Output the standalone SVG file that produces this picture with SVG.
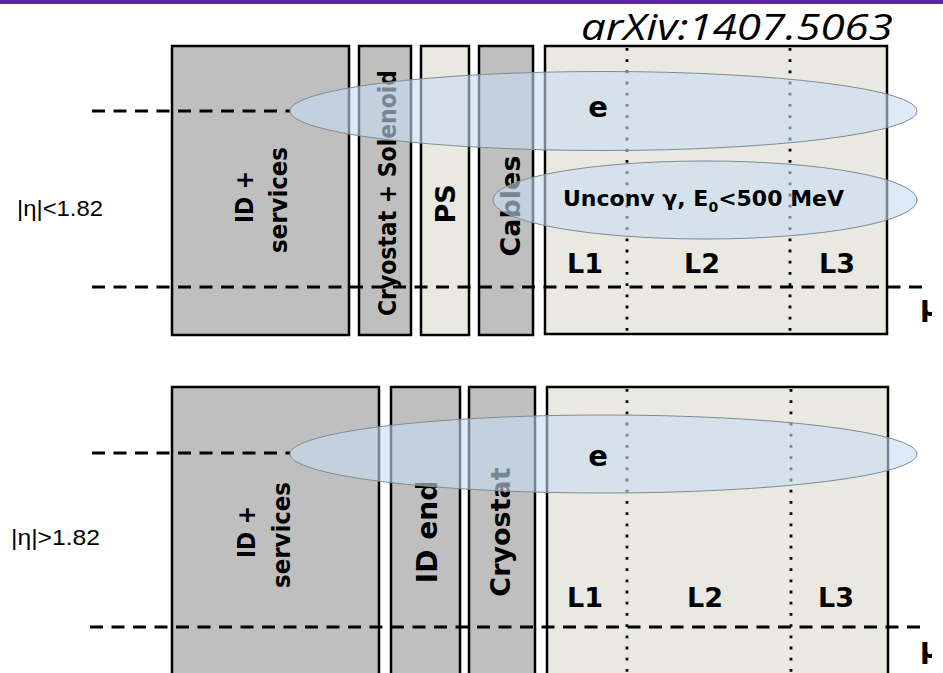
<svg xmlns="http://www.w3.org/2000/svg" width="943" height="673" viewBox="0 0 943 673">
  <style>
    .dark { fill: #bfbfbf; stroke: #000; stroke-width: 2.5; }
    .light { fill: #eae9e1; stroke: #000; stroke-width: 2.5; }
    .lbl { font-family: "DejaVu Sans", "Liberation Sans", sans-serif; font-weight: bold; fill: #000; }
    .eta { font-family: "Liberation Sans", Arial, sans-serif; font-size: 22px; fill: #000; }
    .dash { stroke: #000; stroke-width: 3; stroke-dasharray: 13 8.5; fill: none; }
    .dot { stroke: #000; stroke-width: 2.8; stroke-dasharray: 2.8 8.4; fill: none; }
    .shower { fill: rgb(199,221,243); fill-opacity: 0.6; stroke: #808a90; stroke-width: 1; }
  </style>
  <defs>
    <!-- the figure is cut off on its right side -->
    <clipPath id="figclip"><rect x="0" y="0" width="932" height="673"/></clipPath>
  </defs>

  <rect width="943" height="673" fill="#fff"/>
  <!-- header bar -->
  <rect x="0" y="0" width="943" height="4" fill="#5b22a7"/>
  <text x="581" y="40" font-family="'Open Sans', 'Liberation Sans', sans-serif" font-style="italic" font-size="36" textLength="312" lengthAdjust="spacingAndGlyphs" fill="#000">arXiv:1407.5063</text>

  <g clip-path="url(#figclip)">
  <!-- ===== central region |eta| < 1.82 ===== -->
  <g id="barrel">
    <g id="b-id">
      <rect class="dark" x="172" y="46" width="177" height="289"/>
      <text class="lbl" font-size="25" text-anchor="middle" transform="translate(253,197) rotate(-90)" textLength="52" lengthAdjust="spacingAndGlyphs">ID +</text>
      <text class="lbl" font-size="25" text-anchor="middle" transform="translate(287,200) rotate(-90)" textLength="106" lengthAdjust="spacingAndGlyphs">services</text>
    </g>
    <g id="b-cryo">
      <rect class="dark" x="359" y="46" width="52" height="289"/>
      <text class="lbl" font-size="24" text-anchor="middle" transform="translate(396,193) rotate(-90)" textLength="246" lengthAdjust="spacingAndGlyphs">Cryostat + Solenoid</text>
    </g>
    <g id="b-ps">
      <rect class="light" x="421" y="46" width="48" height="289"/>
      <text class="lbl" font-size="27" text-anchor="middle" transform="translate(455,204) rotate(-90)">PS</text>
    </g>
    <g id="b-cables">
      <rect class="dark" x="479" y="46" width="54" height="289"/>
      <text class="lbl" font-size="27" text-anchor="middle" transform="translate(520,206) rotate(-90)">Cables</text>
    </g>
    <g id="b-calo">
      <rect class="light" x="545" y="46" width="342" height="288"/>
      <line class="dot" x1="627" y1="48" x2="627" y2="333"/>
      <line class="dot" x1="790" y1="48" x2="790" y2="333"/>
      <text class="lbl" font-size="27" x="567" y="273">L1</text>
      <text class="lbl" font-size="27" x="684" y="273">L2</text>
      <text class="lbl" font-size="27" x="819" y="273">L3</text>
    </g>
  </g>

  <!-- ===== forward region |eta| > 1.82 ===== -->
  <g id="endcap">
    <g id="e-id">
      <rect class="dark" x="172" y="387" width="207" height="300"/>
      <text class="lbl" font-size="25" text-anchor="middle" transform="translate(255,532) rotate(-90)" textLength="52" lengthAdjust="spacingAndGlyphs">ID +</text>
      <text class="lbl" font-size="25" text-anchor="middle" transform="translate(290,535) rotate(-90)" textLength="106" lengthAdjust="spacingAndGlyphs">services</text>
    </g>
    <g id="e-idend">
      <rect class="dark" x="391" y="387" width="69" height="300"/>
      <text class="lbl" font-size="28" text-anchor="middle" transform="translate(437,532) rotate(-90)">ID end</text>
    </g>
    <g id="e-cryo">
      <rect class="dark" x="469" y="387" width="66" height="300"/>
      <text class="lbl" font-size="27" text-anchor="middle" transform="translate(510,532) rotate(-90)">Cryostat</text>
    </g>
    <g id="e-calo">
      <rect class="light" x="547" y="387" width="341" height="300"/>
      <line class="dot" x1="627" y1="389" x2="627" y2="673"/>
      <line class="dot" x1="791" y1="389" x2="791" y2="673"/>
      <text class="lbl" font-size="27" x="567" y="607">L1</text>
      <text class="lbl" font-size="27" x="687" y="607">L2</text>
      <text class="lbl" font-size="27" x="818" y="607">L3</text>
    </g>
  </g>

  <!-- beam lines -->
  <g id="guides">
    <line class="dash" x1="92" y1="111" x2="290" y2="111"/>
    <line class="dash" x1="92" y1="287" x2="927" y2="287"/>
    <line class="dash" x1="92" y1="453" x2="290" y2="453"/>
    <line class="dash" x1="90" y1="627" x2="925" y2="627"/>
  </g>
  <text class="lbl" font-size="28" x="920" y="316">μ</text>
  <text class="lbl" font-size="28" x="920" y="658">μ</text>

  <!-- showers -->
  <g id="shower-e-barrel">
    <ellipse class="shower" cx="603.5" cy="111" rx="313.5" ry="39.5"/>
    <text class="lbl" font-size="29" text-anchor="middle" x="598" y="117">e</text>
  </g>
  <g id="shower-gamma">
    <ellipse class="shower" cx="705" cy="200" rx="212" ry="39"/>
    <text class="lbl" font-size="22" x="563" y="206">Unconv γ, E<tspan font-size="14" dy="6">0</tspan><tspan dy="-6">&lt;500 MeV</tspan></text>
  </g>
  <g id="shower-e-endcap">
    <ellipse class="shower" cx="603.5" cy="454" rx="313.5" ry="39"/>
    <text class="lbl" font-size="29" text-anchor="middle" x="598" y="466">e</text>
  </g>
  </g>

  <!-- eta ranges -->
  <text class="eta" x="17" y="216" textLength="86" lengthAdjust="spacingAndGlyphs">|η|&lt;1.82</text>
  <text class="eta" x="11" y="545" textLength="89" lengthAdjust="spacingAndGlyphs">|η|&gt;1.82</text>
</svg>
